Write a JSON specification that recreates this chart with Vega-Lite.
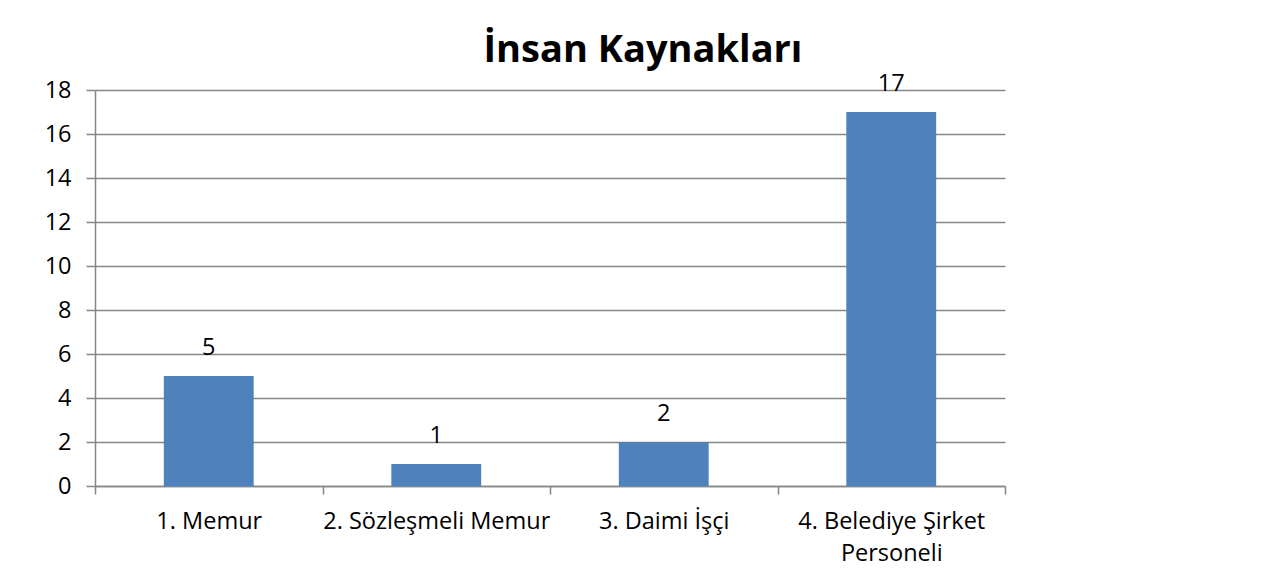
{
  "$schema": "https://vega.github.io/schema/vega-lite/v6.json",
  "autosize": "none",
  "padding": {"left": 95, "top": 90, "right": 281, "bottom": 94},
  "width": 910,
  "height": 396,
  "background": "white",
  "title": {
    "text": "İnsan Kaynakları",
    "font": "Open Sans",
    "fontSize": 38,
    "fontWeight": "bold",
    "color": "#000000",
    "anchor": "middle",
    "baseline": "bottom",
    "dx": 93,
    "dy": 38,
    "offset": 2
  },
  "data": {
    "values": [
      {"kategori": "1. Memur", "sayi": 5},
      {"kategori": "2. Sözleşmeli Memur", "sayi": 1},
      {"kategori": "3. Daimi İşçi", "sayi": 2},
      {"kategori": "4. Belediye Şirket Personeli", "sayi": 17}
    ]
  },
  "encoding": {
    "x": {
      "field": "kategori",
      "type": "nominal",
      "sort": null,
      "scale": {"paddingInner": 0, "paddingOuter": 0},
      "axis": {
        "title": null,
        "labelAngle": 0,
        "labelFont": "Open Sans",
        "labelFontSize": 23.5,
        "labelColor": "#000000",
        "labelPadding": 15,
        "labelLimit": 400,
        "labelExpr": "datum.value == '4. Belediye Şirket Personeli' ? ['4. Belediye Şirket', 'Personeli'] : datum.value",
        "labelLineHeight": 32,
        "tickBand": "extent",
        "tickSize": 8,
        "tickColor": "#868686",
        "domainColor": "#868686",
        "domainWidth": 1.5,
        "tickWidth": 1.5,
        "grid": false
      }
    },
    "y": {
      "field": "sayi",
      "type": "quantitative",
      "scale": {"domain": [0, 18]},
      "axis": {
        "title": null,
        "values": [0, 2, 4, 6, 8, 10, 12, 14, 16, 18],
        "labelFont": "Open Sans",
        "labelFontSize": 23.5,
        "labelColor": "#000000",
        "labelPadding": 15,
        "tickSize": 9,
        "tickColor": "#868686",
        "tickWidth": 1.5,
        "domainColor": "#868686",
        "domainWidth": 1.5,
        "grid": true,
        "gridColor": "#868686",
        "gridWidth": 1.5
      }
    }
  },
  "layer": [
    {"mark": {"type": "bar", "color": "#4F81BD", "width": {"band": 0.395}}},
    {
      "mark": {
        "type": "text",
        "baseline": "alphabetic",
        "dy": -21,
        "font": "Open Sans",
        "fontSize": 23.5,
        "color": "#000000"
      },
      "encoding": {"text": {"field": "sayi", "type": "quantitative"}}
    }
  ],
  "config": {"view": {"stroke": null}}
}
